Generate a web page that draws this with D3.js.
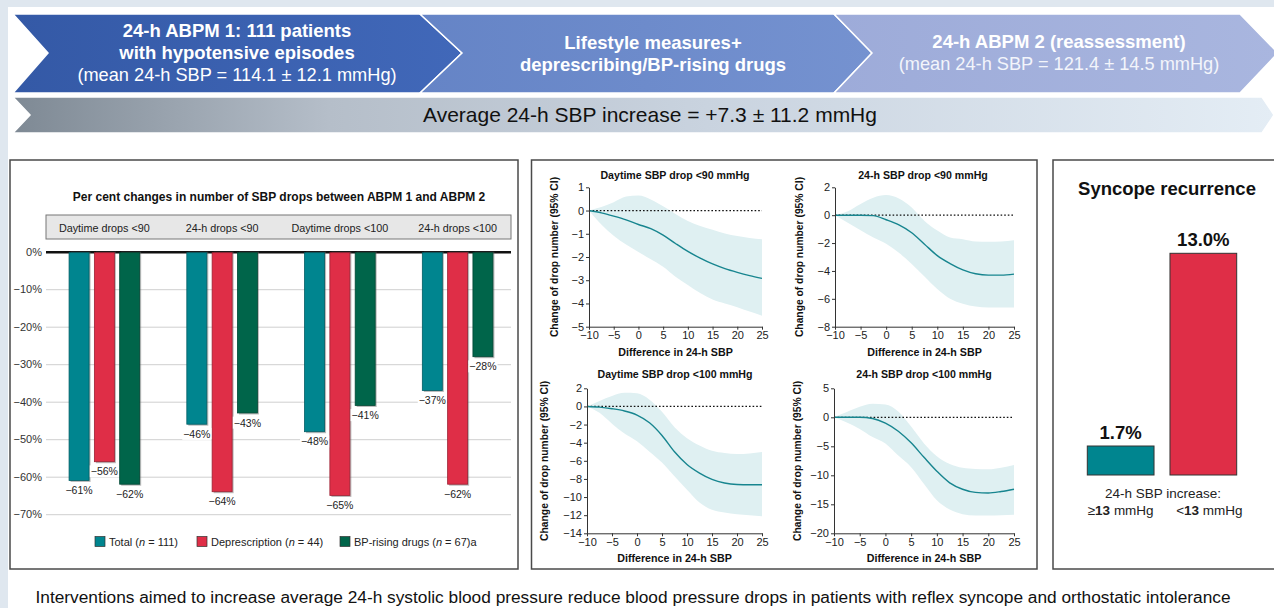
<!DOCTYPE html>
<html>
<head>
<meta charset="utf-8">
<script src="https://cdn.jsdelivr.net/npm/d3@7"></script>
<style>
	body { margin: 0; background: #dfe7ef; }
	svg { display: block; font-family: "Liberation Sans", Arial, sans-serif; }
</style>
</head>
<body>
<svg id="chart" width="1274" height="608"></svg>
<script>
// ---------- data ----------
const dropGroups = ["Daytime drops <90", "24-h drops <90", "Daytime drops <100", "24-h drops <100"];
const seriesNames = ["Total", "Deprescription", "BP-rising drugs"];
const seriesN = ["111", "44", "67"];
const totalChange = [-61, -46, -48, -37];
const deprescriptionChange = [-56, -64, -65, -62];
const bpRisingChange = [-62, -43, -41, -28];
const pctTicks = [0, -10, -20, -30, -40, -50, -60, -70];

// spline fits: difference in 24-h SBP vs change of drop number (95% CI)
const sbpDiff = [-10, -7.5, -5, -2.5, 0, 2.5, 5, 7.5, 10, 12.5, 15, 17.5, 20, 22.5, 25];
const day90Fit = [0, -0.1, -0.24, -0.4, -0.6, -0.78, -1.06, -1.42, -1.76, -2.05, -2.3, -2.5, -2.66, -2.8, -2.92];
const day90Upper = [0, 0.15, 0.36, 0.6, 0.65, 0.48, 0.18, -0.15, -0.45, -0.67, -0.83, -0.99, -1.1, -1.18, -1.24];
const day90Lower = [0, -0.6, -1.08, -1.46, -1.78, -2.1, -2.42, -2.85, -3.2, -3.55, -3.83, -4.0, -4.16, -4.35, -4.53];
const h24_90Fit = [0, 0, 0, -0.03, -0.33, -0.7, -1.26, -2.08, -2.9, -3.47, -3.92, -4.2, -4.3, -4.3, -4.23];
const h24_90Upper = [0, 0.28, 0.8, 1.25, 1.44, 1.2, 0.55, -0.41, -1.1, -1.6, -1.72, -1.89, -1.91, -1.88, -1.79];
const h24_90Lower = [0, -0.55, -1.08, -1.6, -2.05, -2.7, -3.5, -4.4, -5.3, -6.0, -6.35, -6.55, -6.63, -6.63, -6.63];
const day100Fit = [0, -0.08, -0.25, -0.5, -0.95, -1.8, -3.2, -5.0, -6.4, -7.35, -8.05, -8.45, -8.62, -8.65, -8.65];
const day100Upper = [0, 0.6, 1.15, 1.5, 1.45, 0.75, -0.6, -2.3, -3.5, -4.3, -4.9, -5.15, -5.26, -5.2, -5.04];
const day100Lower = [0, -0.7, -1.9, -3.0, -3.85, -5.0, -6.2, -7.7, -9.2, -10.6, -11.4, -11.7, -11.9, -12.0, -12.13];
const h24_100Fit = [0, 0, 0, -0.2, -1.0, -2.4, -4.4, -6.9, -9.3, -11.3, -12.4, -12.95, -13.05, -12.8, -12.4];
const h24_100Upper = [0, 0.9, 1.8, 2.35, 2.2, 1.0, -1.6, -4.5, -6.7, -8.05, -8.7, -8.9, -8.97, -8.7, -8.22];
const h24_100Lower = [0, -0.9, -2.0, -3.4, -4.5, -6.6, -8.6, -11.5, -14.3, -15.9, -16.7, -16.95, -16.95, -16.9, -16.8];
const diffTicks = [-10, -5, 0, 5, 10, 15, 20, 25];

const syncopeGroups = ["≥13", "<13"];
const syncopeRates = [1.7, 13.0];

// colours
const teal = "#00858f", red = "#df2e47", green = "#00654a";
const seriesColors = [teal, red, green];

let svg = d3.select("#chart");
svg.append("rect").attr("x", 8).attr("y", 7).attr("width", 1266).attr("height", 601).attr("fill", "#fff");

let defs = svg.append("defs");
function addGradient(id, stops) {
	let g = defs.append("linearGradient").attr("id", id);
	stops.forEach(s => g.append("stop").attr("offset", s[0]).attr("stop-color", s[1]));
}
addGradient("g1", [["0%", "#3459a6"], ["100%", "#4168b9"]]);
addGradient("g2", [["0%", "#6584c6"], ["100%", "#7592d0"]]);
addGradient("g3", [["0%", "#9dabd9"], ["100%", "#a9b6df"]]);
addGradient("gband", [["0%", "#7e8994"], ["25%", "#b5bec9"], ["55%", "#c9d3df"], ["100%", "#e4edf5"]]);

// ---------- banner ----------
function drawBanner() {
	let poly = d3.line();
	let shapes = [
		{ pts: [[13, 14], [420, 14], [462, 53], [420, 93], [13, 93], [48, 53]], fill: "url(#g1)" },
		{ pts: [[420, 14], [834, 14], [872, 53], [834, 93], [420, 93], [462, 53]], fill: "url(#g2)" },
		{ pts: [[834, 14], [1240, 14], [1278, 53], [1240, 93], [834, 93], [872, 53]], fill: "url(#g3)" },
		{ pts: [[13, 97], [1262, 97], [1274, 115], [1262, 133], [13, 133], [30, 115]], fill: "url(#gband)" }
	];
	svg.selectAll("path.chev")
		.data(shapes)
		.enter()
		.append("path")
		.attr("class", "chev")
		.attr("d", d => poly(d.pts) + "Z")
		.attr("fill", d => d.fill)
		.attr("stroke", "#fff")
		.attr("stroke-width", 1.5);

	let lines = [
		{ x: 237, y: 36.5, t: "24-h ABPM 1: 111 patients", b: true, c: "#fff" },
		{ x: 237, y: 58.5, t: "with hypotensive episodes", b: true, c: "#fff" },
		{ x: 237, y: 81, t: "(mean 24-h SBP = 114.1 ± 12.1 mmHg)", b: false, c: "#fff" },
		{ x: 653, y: 48.5, t: "Lifestyle measures+", b: true, c: "#fff" },
		{ x: 653, y: 70.5, t: "deprescribing/BP-rising drugs", b: true, c: "#fff" },
		{ x: 1059, y: 47.5, t: "24-h ABPM 2 (reassessment)", b: true, c: "#fff" },
		{ x: 1059, y: 69.5, t: "(mean 24-h SBP = 121.4 ± 14.5 mmHg)", b: false, c: "#f3f5fb" }
	];
	svg.selectAll("text.ban")
		.data(lines)
		.enter()
		.append("text")
		.attr("class", "ban")
		.attr("x", d => d.x)
		.attr("y", d => d.y)
		.attr("text-anchor", "middle")
		.style("font-size", d => d.b ? "18.5px" : "18.2px")
		.style("font-weight", d => d.b ? "bold" : "normal")
		.style("fill", d => d.c)
		.text(d => d.t);

	svg.append("text")
		.attr("x", 650).attr("y", 122)
		.attr("text-anchor", "middle")
		.style("font-size", "21px")
		.style("fill", "#111")
		.text("Average 24-h SBP increase = +7.3 ± 11.2 mmHg");
}

// ---------- panel frames ----------
function drawPanels() {
	let frames = [[10, 160, 508, 409], [531.5, 160, 505.5, 409], [1053, 160, 240, 409]];
	svg.selectAll("rect.panel")
		.data(frames)
		.enter()
		.append("rect")
		.attr("class", "panel")
		.attr("x", d => d[0]).attr("y", d => d[1])
		.attr("width", d => d[2]).attr("height", d => d[3])
		.attr("fill", "#fff")
		.attr("stroke", "#4a4a4a")
		.attr("stroke-width", 1.5);
}

// ---------- grouped bar chart ----------
function createBarChart() {
	let g = svg.append("g");
	let y = d3.scaleLinear().domain([0, -70]).range([251.7, 514.2]);
	let x0 = d3.scaleBand().domain(dropGroups).range([45.5, 516.5]);
	let x1 = d3.scaleBand().domain(seriesNames).range([-35.3, 35.3]).paddingInner(0.21);
	let seriesValues = [totalChange, deprescriptionChange, bpRisingChange];

	g.append("text")
		.attr("x", 279).attr("y", 200.5)
		.attr("text-anchor", "middle")
		.style("font-size", "12px").style("font-weight", "bold").style("fill", "#111")
		.text("Per cent changes in number of SBP drops between ABPM 1 and ABPM 2");

	// header strip
	g.append("rect")
		.attr("x", 46).attr("y", 215).attr("width", 465).attr("height", 24)
		.attr("fill", "#e7e7e7").attr("stroke", "#777");
	g.selectAll("text.hdr")
		.data(dropGroups)
		.enter()
		.append("text")
		.attr("class", "hdr")
		.attr("x", d => x0(d) + x0.bandwidth() / 2)
		.attr("y", 231.5)
		.attr("text-anchor", "middle")
		.style("font-size", "10.8px").style("fill", "#222")
		.text(d => d);

	// axis + grid
	let axis = g.append("g")
		.attr("transform", "translate(46,0)")
		.call(d3.axisLeft(y).tickValues(pctTicks).tickSize(-465).tickPadding(4)
			.tickFormat(d => (d < 0 ? "−" : "") + Math.abs(d) + "%"));
	axis.select(".domain").remove();
	axis.selectAll(".tick line").attr("stroke", d => d === 0 ? "#111" : "#cfcfcf").attr("stroke-width", d => d === 0 ? 2.5 : 1);
	axis.selectAll(".tick text").style("font-size", "11px").style("fill", "#333").style("font-family", "inherit");

	let rows = [];
	dropGroups.forEach((grp, i) => {
		seriesNames.forEach((s, j) => rows.push({ grp: grp, s: s, j: j, v: seriesValues[j][i] }));
	});
	let bx = d => x0(d.grp) + x0.bandwidth() / 2 + x1(d.s);

	// shadows
	g.selectAll("rect.shadow")
		.data(rows)
		.enter()
		.append("rect")
		.attr("x", d => bx(d) + 1.5)
		.attr("y", y(0))
		.attr("width", x1.bandwidth())
		.attr("height", d => y(d.v) - y(0) + 1.5)
		.attr("fill", "#666").attr("opacity", 0.45);

	g.selectAll("rect.bar")
		.data(rows)
		.enter()
		.append("rect")
		.attr("x", bx)
		.attr("y", y(0) + 1)
		.attr("width", x1.bandwidth())
		.attr("height", d => y(d.v) - y(0) - 1)
		.attr("fill", d => seriesColors[d.j])
		.attr("stroke", d => d3.color(seriesColors[d.j]).darker(1))
		.attr("stroke-width", 0.8);

	// value labels with white backing
	rows.forEach(d => {
		let lg = g.append("g");
		let t = lg.append("text")
			.attr("x", bx(d) + x1.bandwidth() / 2)
			.attr("y", y(d.v) + 10)
			.attr("dy", "0.35em")
			.attr("text-anchor", "middle")
			.style("font-size", "10.5px").style("fill", "#222")
			.text("−" + Math.abs(d.v) + "%");
		let b = t.node().getBBox();
		lg.insert("rect", "text")
			.attr("x", b.x - 1).attr("y", b.y).attr("width", b.width + 2).attr("height", b.height)
			.attr("fill", "#fff");
	});

	// legend
	let lx = [95, 197, 340];
	seriesNames.forEach((s, j) => {
		g.append("rect")
			.attr("x", lx[j]).attr("y", 536.5).attr("width", 10).attr("height", 10)
			.attr("fill", seriesColors[j]).attr("stroke", "#333").attr("stroke-width", 0.7);
		let t = g.append("text")
			.attr("x", lx[j] + 14).attr("y", 545.5)
			.style("font-size", "11px").style("fill", "#222");
		t.append("tspan").text(s + " (");
		t.append("tspan").style("font-style", "italic").text("n");
		t.append("tspan").text(" = " + seriesN[j] + ")" + (j === 2 ? "a" : ""));
	});
}

// ---------- spline panels ----------
function createCurveChart(cfg, fit, upper, lower) {
	let g = svg.append("g");
	let x = d3.scaleLinear().domain([-10, 25]).range(cfg.xRange);
	let y = d3.scaleLinear().domain(cfg.yDomain).range(cfg.yRange);
	let pts = sbpDiff.map((d, i) => ({ x: d, fit: fit[i], up: upper[i], lo: lower[i] }));

	g.append("path")
		.datum(pts)
		.attr("d", d3.area().x(d => x(d.x)).y0(d => y(d.lo)).y1(d => y(d.up)).curve(d3.curveMonotoneX))
		.attr("fill", "#dff0f2");

	g.append("line")
		.attr("x1", x(-10)).attr("x2", x(25))
		.attr("y1", y(0)).attr("y2", y(0))
		.attr("stroke", "#111").attr("stroke-width", 1.2).attr("stroke-dasharray", "1.6,2");

	g.append("path")
		.datum(pts)
		.attr("d", d3.line().x(d => x(d.x)).y(d => y(d.fit)).curve(d3.curveMonotoneX))
		.attr("fill", "none").attr("stroke", "#17858f").attr("stroke-width", 1.4);

	let xa = g.append("g")
		.attr("transform", "translate(0," + cfg.yRange[0] + ")")
		.call(d3.axisBottom(x).tickValues(diffTicks).tickSize(3).tickSizeOuter(0).tickPadding(2));
	let ya = g.append("g")
		.attr("transform", "translate(" + cfg.xRange[0] + ",0)")
		.call(d3.axisLeft(y).tickValues(cfg.yTicks).tickSize(3).tickSizeOuter(0).tickPadding(2)
			.tickFormat(d3.format("d")));
	[xa, ya].forEach(a => {
		a.selectAll("path, line").attr("stroke", "#333");
		a.selectAll("text").style("font-size", "11px").style("fill", "#222").style("font-family", "inherit");
	});

	g.append("text")
		.attr("x", cfg.titleX).attr("y", cfg.titleY)
		.attr("text-anchor", "middle")
		.style("font-size", "10.6px").style("font-weight", "bold").style("fill", "#111")
		.text(cfg.title);
	g.append("text")
		.attr("x", (cfg.xRange[0] + cfg.xRange[1]) / 2).attr("y", cfg.yRange[0] + 29)
		.attr("text-anchor", "middle")
		.style("font-size", "10.7px").style("font-weight", "bold").style("fill", "#111")
		.text("Difference in 24-h SBP");
	g.append("text")
		.attr("transform", "translate(" + cfg.yLabelX + "," + ((cfg.yRange[0] + cfg.yRange[1]) / 2) + ") rotate(-90)")
		.attr("text-anchor", "middle")
		.attr("dy", "0.35em")
		.style("font-size", "10.3px").style("font-weight", "bold").style("fill", "#111")
		.text("Change of drop number (95% CI)");
}

// ---------- syncope recurrence ----------
function createSyncopeChart() {
	let g = svg.append("g");
	let y = d3.scaleLinear().domain([0, 13]).range([475, 253.3]);
	let x = d3.scaleBand().domain(syncopeGroups).range([1087.3, 1236.7]).paddingInner(0.193);

	g.append("text")
		.attr("x", 1167).attr("y", 195)
		.attr("text-anchor", "middle")
		.style("font-size", "18.5px").style("font-weight", "bold").style("fill", "#111")
		.text("Syncope recurrence");

	g.selectAll("rect.sync")
		.data(syncopeRates)
		.enter()
		.append("rect")
		.attr("x", (d, i) => x(syncopeGroups[i]))
		.attr("y", d => y(d))
		.attr("width", x.bandwidth())
		.attr("height", d => y(0) - y(d))
		.attr("fill", (d, i) => i === 0 ? teal : red)
		.attr("stroke", "#333").attr("stroke-width", 1);

	g.selectAll("text.sv")
		.data(syncopeRates)
		.enter()
		.append("text")
		.attr("x", (d, i) => x(syncopeGroups[i]) + x.bandwidth() / 2)
		.attr("y", d => y(d) - 7.5)
		.attr("text-anchor", "middle")
		.style("font-size", "18.5px").style("font-weight", "bold").style("fill", "#111")
		.text(d => d.toFixed(1) + "%");

	g.append("text")
		.attr("x", 1163).attr("y", 498)
		.attr("text-anchor", "middle")
		.style("font-size", "13.5px").style("fill", "#222")
		.text("24-h SBP increase:");
	syncopeGroups.forEach((s, i) => {
		let t = g.append("text")
			.attr("x", x(s) + x.bandwidth() / 2 + (i === 1 ? 6 : 0)).attr("y", 515)
			.attr("text-anchor", "middle")
			.style("font-size", "13.5px").style("fill", "#222");
		t.append("tspan").text(s.slice(0, 1));
		t.append("tspan").style("font-weight", "bold").text(s.slice(1));
		t.append("tspan").text(" mmHg");
	});
}

drawBanner();
drawPanels();
createBarChart();
createCurveChart({ title: "Daytime SBP drop <90 mmHg", titleX: 675, titleY: 178.5, xRange: [589, 762],
	yDomain: [-5, 1], yRange: [326.7, 187.3], yTicks: [-5, -4, -3, -2, -1, 0, 1], yLabelX: 554 },
	day90Fit, day90Upper, day90Lower);
createCurveChart({ title: "24-h SBP drop <90 mmHg", titleX: 923, titleY: 178.5, xRange: [835, 1014],
	yDomain: [-8, 2], yRange: [326.7, 187.3], yTicks: [-8, -6, -4, -2, 0, 2], yLabelX: 799 },
	h24_90Fit, h24_90Upper, h24_90Lower);
createCurveChart({ title: "Daytime SBP drop <100 mmHg", titleX: 675, titleY: 377.5, xRange: [587, 762],
	yDomain: [-14, 2], yRange: [533.3, 388.3], yTicks: [-14, -12, -10, -8, -6, -4, -2, 0, 2], yLabelX: 544 },
	day100Fit, day100Upper, day100Lower);
createCurveChart({ title: "24-h SBP drop <100 mmHg", titleX: 924, titleY: 377.5, xRange: [834, 1014],
	yDomain: [-20, 5], yRange: [533.3, 388.3], yTicks: [-20, -15, -10, -5, 0, 5], yLabelX: 797 },
	h24_100Fit, h24_100Upper, h24_100Lower);
createSyncopeChart();

// caption
svg.append("text")
	.attr("x", 633).attr("y", 603)
	.attr("text-anchor", "middle")
	.style("font-size", "17.3px").style("fill", "#111")
	.text("Interventions aimed to increase average 24-h systolic blood pressure reduce blood pressure drops in patients with reflex syncope and orthostatic intolerance");
</script>
</body>
</html>
